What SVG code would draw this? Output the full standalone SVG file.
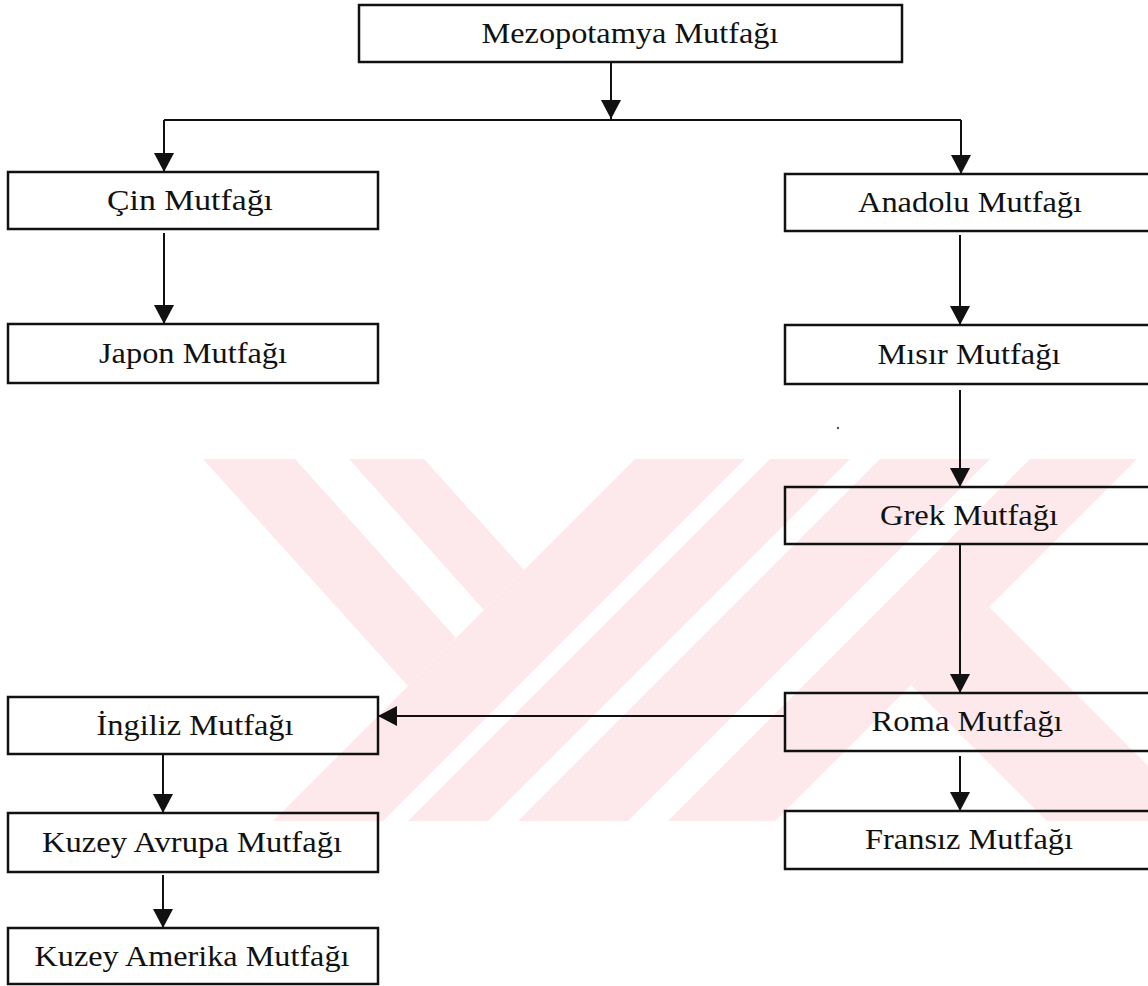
<svg xmlns="http://www.w3.org/2000/svg" width="1148" height="986" viewBox="0 0 1148 986">
  <style>
    .box { fill: none; stroke: #111; stroke-width: 2.5; }
    .lbl { font-family: "Liberation Serif", "Times New Roman", serif; font-size: 29px; fill: #111; text-anchor: middle; }
    .conn { stroke: #111; stroke-width: 2; fill: none; }
    .wm { fill: #fde9ec; stroke: none; }
  </style>
  <defs>
    <marker id="arrow" viewBox="0 0 19 20" refX="19" refY="10" markerWidth="19" markerHeight="20" markerUnits="userSpaceOnUse" orient="auto">
      <path d="M0,0 L19,10 L0,20 Z" fill="#111"/>
    </marker>
  </defs>
  <rect x="0" y="0" width="1148" height="986" fill="#ffffff"/>

  <g id="watermark">
    <polygon class="wm" points="203,459 295,459 456,638 408,686"/>
    <polygon class="wm" points="349,459 424,459 524,570 484,610"/>
    <polygon class="wm" points="635,459 745,459 383,821 273,821"/>
    <polygon class="wm" points="770,459 850,459 488,821 408,821"/>
    <polygon class="wm" points="880,459 990,459 628,821 518,821"/>
    <polygon class="wm" points="1030,459 1137,459 775,821 668,821"/>
    <polygon class="wm" points="989,607 1155,773 1155,821 1047,821 911,685"/>
  </g>

  <g id="connectors">
    <line class="conn" x1="611" y1="62" x2="611" y2="119" marker-end="url(#arrow)"/>
    <line class="conn" x1="164" y1="120" x2="961" y2="120"/>
    <line class="conn" x1="164" y1="120" x2="164" y2="172" marker-end="url(#arrow)"/>
    <line class="conn" x1="961" y1="120" x2="961" y2="174" marker-end="url(#arrow)"/>
    <line class="conn" x1="164" y1="233" x2="164" y2="324" marker-end="url(#arrow)"/>
    <line class="conn" x1="960" y1="235" x2="960" y2="325" marker-end="url(#arrow)"/>
    <line class="conn" x1="960" y1="390" x2="960" y2="487" marker-end="url(#arrow)"/>
    <line class="conn" x1="960" y1="544" x2="960" y2="693" marker-end="url(#arrow)"/>
    <line class="conn" x1="785" y1="716" x2="378" y2="716" marker-end="url(#arrow)"/>
    <line class="conn" x1="960" y1="756" x2="960" y2="811" marker-end="url(#arrow)"/>
    <line class="conn" x1="163" y1="755" x2="163" y2="813" marker-end="url(#arrow)"/>
    <line class="conn" x1="163" y1="875" x2="163" y2="928" marker-end="url(#arrow)"/>
  </g>

  <g id="mezopotamya">
    <rect class="box" x="359" y="5" width="543" height="57"/>
    <text class="lbl" x="630" y="43" textLength="297" lengthAdjust="spacingAndGlyphs">Mezopotamya Mutfağı</text>
  </g>
  <g id="cin">
    <rect class="box" x="8" y="172" width="370" height="57"/>
    <text class="lbl" x="190" y="210" textLength="166" lengthAdjust="spacingAndGlyphs">Çin Mutfağı</text>
  </g>
  <g id="japon">
    <rect class="box" x="8" y="324" width="370" height="59"/>
    <text class="lbl" x="193" y="363" textLength="188" lengthAdjust="spacingAndGlyphs">Japon Mutfağı</text>
  </g>
  <g id="anadolu">
    <rect class="box" x="785" y="174" width="372" height="57"/>
    <text class="lbl" x="970" y="212" textLength="224" lengthAdjust="spacingAndGlyphs">Anadolu Mutfağı</text>
  </g>
  <g id="misir">
    <rect class="box" x="785" y="325" width="372" height="59"/>
    <text class="lbl" x="969" y="364" textLength="183" lengthAdjust="spacingAndGlyphs">Mısır Mutfağı</text>
  </g>
  <g id="grek">
    <rect class="box" x="785" y="487" width="372" height="57"/>
    <text class="lbl" x="969" y="525" textLength="178" lengthAdjust="spacingAndGlyphs">Grek Mutfağı</text>
  </g>
  <g id="roma">
    <rect class="box" x="785" y="693" width="372" height="58"/>
    <text class="lbl" x="967" y="731" textLength="191" lengthAdjust="spacingAndGlyphs">Roma Mutfağı</text>
  </g>
  <g id="fransiz">
    <rect class="box" x="785" y="811" width="372" height="58"/>
    <text class="lbl" x="969" y="849" textLength="208" lengthAdjust="spacingAndGlyphs">Fransız Mutfağı</text>
  </g>
  <g id="ingiliz">
    <rect class="box" x="8" y="697" width="370" height="57"/>
    <text class="lbl" x="195" y="735" textLength="197" lengthAdjust="spacingAndGlyphs">İngiliz Mutfağı</text>
  </g>
  <g id="kuzey-avrupa">
    <rect class="box" x="8" y="813" width="370" height="59"/>
    <text class="lbl" x="192" y="852" textLength="300" lengthAdjust="spacingAndGlyphs">Kuzey Avrupa Mutfağı</text>
  </g>
  <g id="kuzey-amerika">
    <rect class="box" x="8" y="928" width="370" height="56"/>
    <text class="lbl" x="192" y="966" textLength="315" lengthAdjust="spacingAndGlyphs">Kuzey Amerika Mutfağı</text>
  </g>
  <circle cx="838" cy="428" r="1.2" fill="#555"/>
</svg>
